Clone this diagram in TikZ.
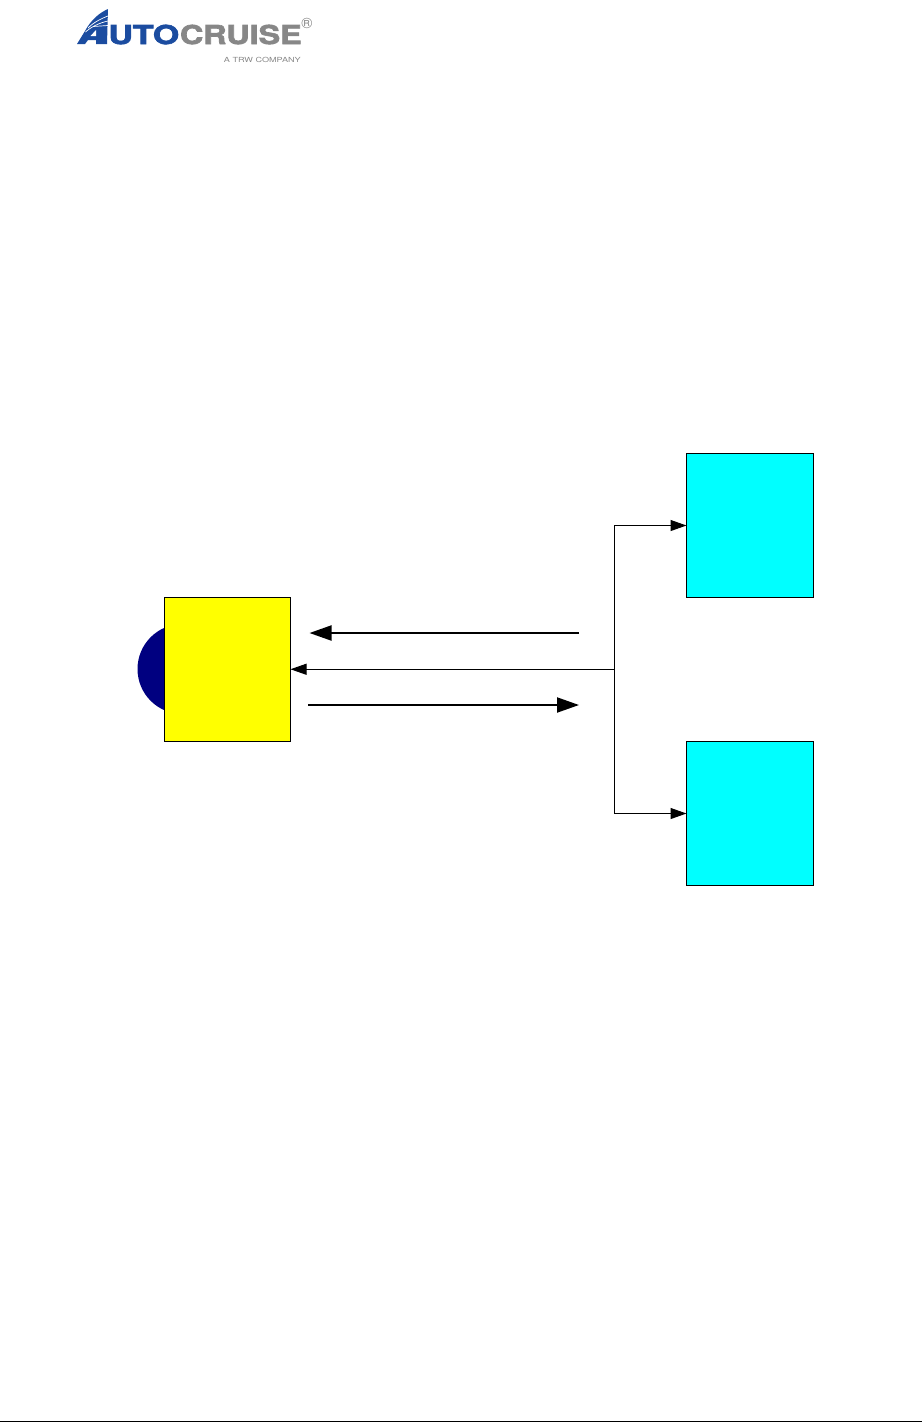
\documentclass[tikz,border=0pt]{standalone}
\usepackage{fontspec}
\setmainfont{TeX Gyre Heros}
\newfontfamily\logofont[FakeBold=2.5]{TeX Gyre Heros Bold}
\usetikzlibrary{arrows.meta}
\definecolor{logoblue}{RGB}{27,76,160}
\definecolor{logogray}{RGB}{135,135,135}
\definecolor{navyc}{RGB}{0,0,128}
\definecolor{boxyellow}{RGB}{255,255,0}
\definecolor{boxcyan}{RGB}{0,255,255}
\tikzset{
  blockbox/.style={draw=black,line width=1pt,minimum width=126pt,minimum height=144pt,inner sep=0pt,outer sep=0pt},
  link/.style={draw=black,line width=1pt,-{Triangle[length=16pt,width=11pt]}},
  bigarrow/.style={draw=black,line width=2pt,-{Triangle[length=22pt,width=15pt]}},
  logoword/.style={inner sep=0pt,outer sep=0pt,anchor=base west,font=\fontsize{26}{26}\selectfont\logofont}
}
\begin{document}
\begin{tikzpicture}[x=1pt,y=-1pt]
\useasboundingbox (0,0) rectangle (922,1422);
% logo
\fill[logoblue] (77,44) -- (85,31) .. controls (91,20) and (99,13) .. (108,9) -- (107,44) -- (96,44) -- (96,40) -- (88,40) -- (85,44) -- cycle;
\fill[white] (90.5,36) -- (96,30) -- (96,36) -- cycle;
\draw[white,line width=0.7pt] (88,28) .. controls (93,23) and (100,19) .. (108,16);
\draw[white,line width=0.7pt] (85.5,32) .. controls (91,27) and (99,23) .. (108,21);
\draw[white,line width=0.7pt] (93,26.5) -- (108,25.5);
\node[logoword,text=logoblue,xscale=1.3] (auto) at (108.5,44) {UTO};
\node[logoword,text=logogray,xscale=1.24] (cruise) at (180,44) {CRUISE};
\node[inner sep=0pt,text=logogray,font=\fontsize{15}{15}\selectfont] (reg) at (307,23) {®};
\node[inner sep=0pt,text=logogray,anchor=base east,xscale=1.3,font=\fontsize{7}{7}\selectfont] (trw) at (301,62) {A TRW COMPANY};
% diagram
\fill[navyc] (182.5,669) circle (45);
\node[blockbox,fill=boxyellow] (host) at (227.5,669.25) {};
\node[blockbox,fill=boxcyan,minimum width=127pt] (upper) at (750,525.5) {};
\node[blockbox,fill=boxcyan,minimum width=127pt] (lower) at (750,813.5) {};
\coordinate (junction) at (614.5,669.25);
\coordinate (aL) at (309.5,633);
\coordinate (aR) at (579,633);
\coordinate (bL) at (308,705);
\coordinate (bR) at (579,705);
\draw[link] (junction) -- (host.east);
\draw[link] (junction) |- (upper.west);
\draw[link] (junction) |- (lower.west);
\draw[bigarrow] (aR) -- (aL);
\draw[bigarrow] (bL) -- (bR);
\coordinate (ruleL) at (0,1421);
\coordinate (ruleR) at (922,1421);
\draw[black,line width=1pt] (ruleL) -- (ruleR);
\end{tikzpicture}
\end{document}
